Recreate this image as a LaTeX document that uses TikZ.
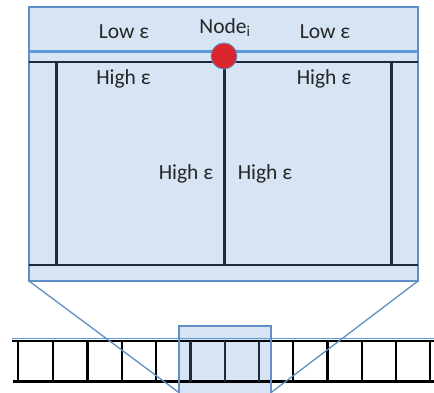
\documentclass[tikz,border=0pt]{standalone}
\usepackage{fontspec}
\setmainfont{Carlito}
\definecolor{fillblue}{HTML}{D6E4F4}
\definecolor{edgeblue}{HTML}{5F8FC6}
\definecolor{lineblue}{HTML}{5B9BD5}
\definecolor{navy}{HTML}{1C2A3C}
\definecolor{dotred}{HTML}{D9262E}
\tikzset{
  lbl/.style={font=\fontsize{21.5}{25}\selectfont, text=black!85, inner sep=0pt, anchor=base},
  dark/.style={draw=navy, line width=2.8pt},
  ladder/.style={draw=black, line width=2.3pt},
  frame/.style={draw=edgeblue, line width=1.3pt},
}
\begin{document}
\begin{tikzpicture}[x=1pt,y=-1pt]
\useasboundingbox (0,0) rectangle (434,393);
% small highlight box fill
\fill[fillblue] (179,326) rectangle (271,394);
% ladder
\draw[lineblue, line width=1.3pt] (12,338.3) -- (434,338.3);
\draw[ladder] (12,340.7) -- (434,340.7);
\draw[ladder] (13,381.5) -- (434,381.5);
\foreach \x in {18.3,53,87.5,122,156.3,293,327.5,361.8,396,430.2}
  \draw[ladder] (\x,340.7) -- (\x,381.5);
\foreach \x in {190.4,224.7,258.8}
  \draw[dark, line width=2.3pt] (\x,340.7) -- (\x,381.5);
\draw[frame] (179,326) rectangle (271,394);
% big box
\draw[frame, fill=fillblue] (29,7) rectangle (418,281);
\coordinate (bl) at (29,281);
\coordinate (br) at (418,281);
\coordinate (sl) at (179.5,393);
\coordinate (sr) at (270.5,393);
\draw[edgeblue, line width=1.3pt] (bl) -- (sl);
\draw[edgeblue, line width=1.3pt] (br) -- (sr);
\draw[lineblue, line width=3pt] (29,52) -- (418,52);
\draw[dark] (29,62) -- (418,62);
\draw[dark] (29,265) -- (418,265);
\foreach \x in {56.7,224.7,391.7}
  \draw[dark, line width=2.6pt] (\x,62) -- (\x,265);
\node[circle, fill=dotred, draw=edgeblue, line width=0.8pt, minimum size=26pt, inner sep=0pt] (nd) at (224,56) {};
% labels
\node[lbl] (l1) at (124,39) {Low ε};
\node[lbl] (l2) at (325,39) {Low ε};
\node[lbl] (ni) at (225,33.3) {Node\textsubscript{i}};
\node[lbl] (h1) at (123.5,85) {High ε};
\node[lbl] (h2) at (324,85) {High ε};
\node[lbl] (h3) at (186,179.3) {High ε};
\node[lbl] (h4) at (265,179.3) {High ε};
\end{tikzpicture}
\end{document}
